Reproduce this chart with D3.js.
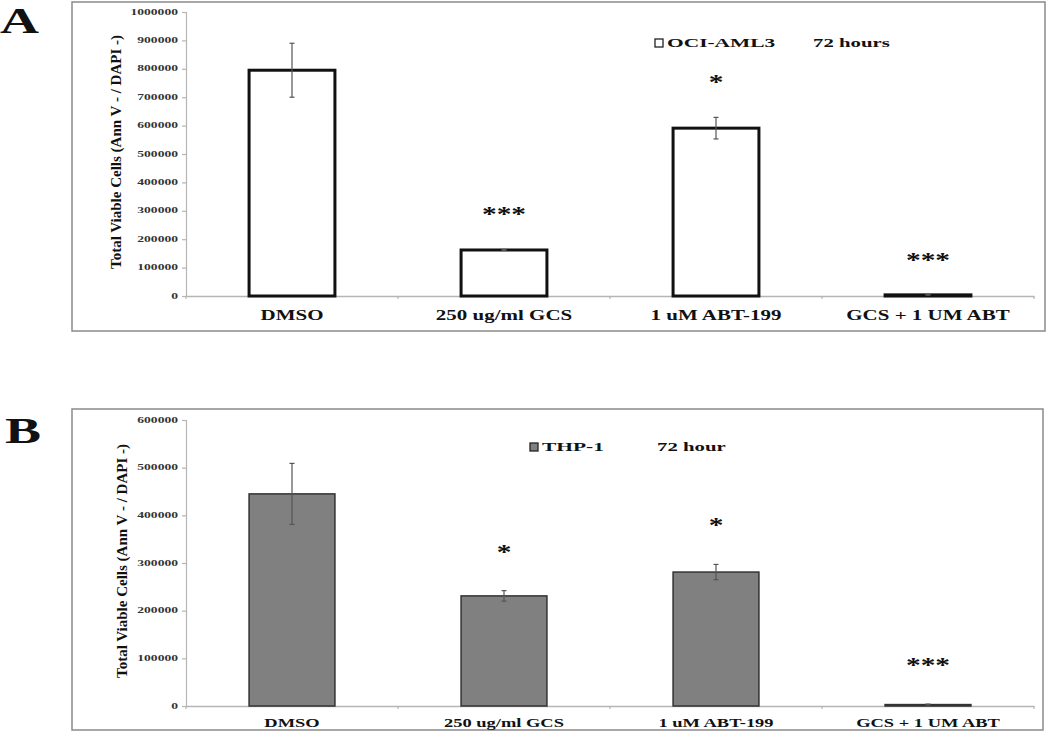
<!DOCTYPE html>
<html>
<head>
<meta charset="utf-8">
<script src="https://cdn.jsdelivr.net/npm/d3@7"></script>
<style>
  html, body { margin: 0; padding: 0; background: #fff; }
  svg { display: block; }
  text { font-family: "Liberation Serif", "Times New Roman", serif; font-weight: bold; fill: #111; }
</style>
</head>
<body>
<svg id="chart" width="1050" height="743"></svg>
<script>
// ---------- data ----------
const categories = ["DMSO", "250 ug/ml GCS", "1 uM ABT-199", "GCS + 1 UM ABT"];

const ociMeans  = [795000, 162000, 591000, 4000];
const ociErrors = [95000, 2000, 38000, 1000];
const ociStars  = ["", "***", "*", "***"];
const ociTicks  = [0, 100000, 200000, 300000, 400000, 500000, 600000, 700000, 800000, 900000, 1000000];

const thpMeans  = [445000, 231000, 281000, 3000];
const thpErrors = [64000, 11000, 16000, 1000];
const thpStars  = ["", "*", "*", "***"];
const thpTicks  = [0, 100000, 200000, 300000, 400000, 500000, 600000];

const yLabel = "Total Viable Cells (Ann V - / DAPI -)";

// ---------- drawing ----------
const svg = d3.select("#chart");

function stretchedText(g, x, y, str, size, sx, anchor) {
  const t = g.append("g").attr("transform", `translate(${x},${y}) scale(${sx},1)`);
  t.append("text")
    .attr("text-anchor", anchor || "middle")
    .attr("font-size", size)
    .text(str);
  return t;
}

function drawPanel(cfg) {
  const g = svg.append("g");

  // frame
  g.append("rect")
    .attr("x", cfg.frame[0]).attr("y", cfg.frame[1])
    .attr("width", cfg.frame[2] - cfg.frame[0])
    .attr("height", cfg.frame[3] - cfg.frame[1])
    .attr("fill", "none").attr("stroke", "#8a8a8a").attr("stroke-width", 1.5);

  // panel letter
  stretchedText(svg, cfg.letterPos[0], cfg.letterPos[1], cfg.letter, 36, 1.5, "start");

  const y = d3.scaleLinear().domain([0, cfg.yMax]).range(cfg.yRange);
  const x = d3.scaleBand().domain(categories).range(cfg.xRange).paddingInner(0).paddingOuter(0);

  // y axis
  const yAxis = d3.axisLeft(y).tickValues(cfg.ticks).tickSize(4).tickFormat("");
  const ya = g.append("g").attr("transform", `translate(${cfg.xRange[0]},0)`).call(yAxis);
  ya.selectAll("path, line").attr("stroke", "#b5b5b5").attr("stroke-width", 1.2);
  cfg.ticks.forEach(v => {
    stretchedText(g, cfg.xRange[0] - 8, y(v) + 2.5, String(v), 8, 1.7, "end")
      .select("text").style("fill", "#333");
  });

  // x axis
  const xAxis = d3.axisBottom(x).tickSize(0).tickFormat("");
  const xa = g.append("g").attr("transform", `translate(0,${y(0)})`).call(xAxis);
  xa.select("path").attr("stroke", "#b5b5b5").attr("stroke-width", 1.5);
  // category boundary ticks
  const bounds = categories.map(c => x(c)).concat([x(categories[categories.length - 1]) + x.bandwidth()]);
  g.selectAll(".btick").data(bounds).enter().append("line")
    .attr("x1", d => d).attr("x2", d => d)
    .attr("y1", y(0)).attr("y2", y(0) + 3)
    .attr("stroke", "#b5b5b5").attr("stroke-width", 1.2);

  // category labels
  categories.forEach(c => {
    stretchedText(g, x(c) + x.bandwidth() / 2, cfg.catY, c, cfg.catSize, cfg.catStretch, "middle");
  });

  // y label
  g.append("text")
    .attr("transform", `translate(${cfg.yLabelPos[0]},${cfg.yLabelPos[1]}) rotate(-90)`)
    .attr("text-anchor", "middle")
    .attr("font-size", 15)
    .text(yLabel);

  // bars
  const bw = x.bandwidth() * 0.405;
  const data = categories.map((c, i) => ({ c, m: cfg.means[i], e: cfg.errors[i], s: cfg.stars[i] }));
  g.selectAll(".bar").data(data).enter().append("rect")
    .attr("x", d => x(d.c) + (x.bandwidth() - bw) / 2)
    .attr("y", d => y(d.m))
    .attr("width", bw)
    .attr("height", d => y(0) - y(d.m))
    .attr("fill", cfg.fill)
    .attr("stroke", cfg.stroke)
    .attr("stroke-width", cfg.strokeWidth);

  // error bars
  const eb = g.selectAll(".err").data(data).enter().append("g");
  eb.append("line")
    .attr("x1", d => x(d.c) + x.bandwidth() / 2).attr("x2", d => x(d.c) + x.bandwidth() / 2)
    .attr("y1", d => y(d.m + d.e)).attr("y2", d => y(d.m - d.e))
    .attr("stroke", "#555").attr("stroke-width", 1.2);
  ["+", "-"].forEach(sign => {
    eb.append("line")
      .attr("x1", d => x(d.c) + x.bandwidth() / 2 - 2.5).attr("x2", d => x(d.c) + x.bandwidth() / 2 + 2.5)
      .attr("y1", d => y(sign === "+" ? d.m + d.e : d.m - d.e))
      .attr("y2", d => y(sign === "+" ? d.m + d.e : d.m - d.e))
      .attr("stroke", "#555").attr("stroke-width", 1.2);
  });

  // significance stars
  data.forEach(d => {
    if (!d.s) return;
    stretchedText(g, x(d.c) + x.bandwidth() / 2, y(d.m + d.e) - cfg.starGap, d.s, 21, 1.4, "middle");
  });

  // legend
  g.append("rect")
    .attr("x", cfg.legend[0]).attr("y", cfg.legend[1] - 8)
    .attr("width", 8).attr("height", 8)
    .attr("fill", cfg.fill).attr("stroke", "#222").attr("stroke-width", 1.3);
  stretchedText(g, cfg.legend[0] + 12, cfg.legend[1], cfg.series, 13, 1.65, "start");
  stretchedText(g, cfg.legend[2], cfg.legend[1], cfg.time, 13, 1.6, "start");
}

drawPanel({
  letter: "A", letterPos: [0, 33],
  frame: [72, 2, 1045, 331],
  yMax: 1000000, yRange: [296, 12], xRange: [186, 1034],
  ticks: ociTicks, means: ociMeans, errors: ociErrors, stars: ociStars,
  catY: 320, catSize: 15, catStretch: 1.4,
  yLabelPos: [121, 152],
  fill: "#ffffff", stroke: "#111", strokeWidth: 3,
  starGap: 28,
  legend: [655, 47, 813], series: "OCI-AML3", time: "72 hours"
});

drawPanel({
  letter: "B", letterPos: [5, 443],
  frame: [72, 409, 1043, 730],
  yMax: 600000, yRange: [706, 420], xRange: [186, 1034],
  ticks: thpTicks, means: thpMeans, errors: thpErrors, stars: thpStars,
  catY: 727, catSize: 13, catStretch: 1.42,
  yLabelPos: [127, 561],
  fill: "#808080", stroke: "#333", strokeWidth: 1.5,
  starGap: 32,
  legend: [530, 451, 657], series: "THP-1", time: "72 hour"
});
</script>
</body>
</html>
